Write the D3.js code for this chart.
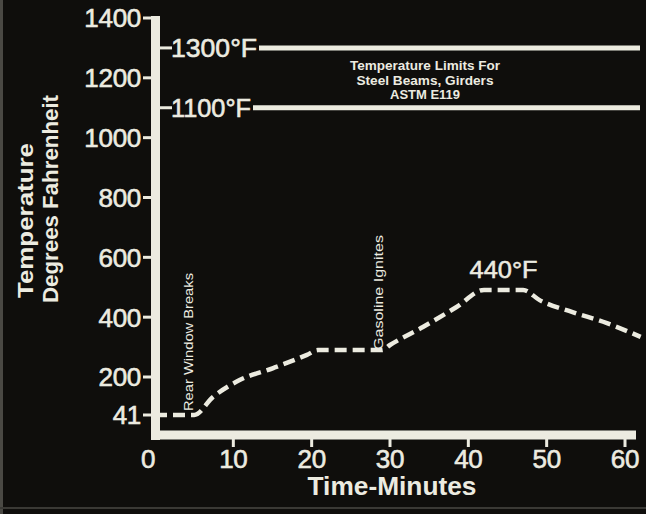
<!DOCTYPE html>
<html>
<head>
<meta charset="utf-8">
<script src="https://cdn.jsdelivr.net/npm/d3@7"></script>
<style>
  html, body { margin: 0; padding: 0; background: #0f0e0c; }
  svg { display: block; }
  text { font-family: "Liberation Sans", Arial, sans-serif; fill: #ecebe0; }
</style>
</head>
<body>
<svg id="chart" width="646" height="514"></svg>
<script>
// ---- data ----
const times = [0, 5, 7.4, 10.8, 15.1, 19.4, 20.8, 29, 30, 34.2, 38.5, 42, 47, 49.1, 53.3, 57.7, 62];
const temps = [41, 41, 116, 187, 230, 274, 290, 290, 307, 367, 434, 491, 491, 457, 417, 380, 334];
const yTicks = [41, 200, 400, 600, 800, 1000, 1200, 1400];
const xTicks = [0, 10, 20, 30, 40, 50, 60];
const limitValues = [1300, 1100];
const limitLabels = ["1300°F", "1100°F"];
const limitNote = ["Temperature Limits For", "Steel Beams, Girders", "ASTM E119"];
const events = [
  { t: 4.4, label: "Rear Window Breaks" },
  { t: 28.7, label: "Gasoline Ignites" }
];
const peakLabel = "440°F";
const peakTime = 44.5;
const peakValue = 491;
const xTitle = "Time-Minutes";
const yTitle = ["Temperature", "Degrees Fahrenheit"];

// ---- drawing ----
const W = 646, H = 514;
const ink = "#ecebe0";
const svg = d3.select("#chart");
svg.append("rect").attr("width", W).attr("height", H).attr("fill", "#0f0e0c");
// faint photo edges
svg.append("rect").attr("x", 0).attr("y", 0).attr("width", 3).attr("height", H).attr("fill", "#4a4944");
svg.append("rect").attr("x", 0).attr("y", 507).attr("width", W).attr("height", 2).attr("fill", "#3a3935");

const x = d3.scaleLinear().domain([0, 60]).range([155, 625]);
const y = d3.scaleLinear().domain([0, 41, 200, 1400]).range([436, 415, 377, 18]);

const axisX0 = 151, axisY0 = 435;

// y axis line
svg.append("line")
  .attr("x1", 155.5).attr("x2", 155.5)
  .attr("y1", y(1400) - 2).attr("y2", axisY0 + 5)
  .attr("stroke", ink).attr("stroke-width", 9);
// x axis line
svg.append("line")
  .attr("x1", axisX0).attr("x2", 636)
  .attr("y1", axisY0).attr("y2", axisY0)
  .attr("stroke", ink).attr("stroke-width", 9);

// y ticks
const yt = svg.append("g");
yt.selectAll("line").data(yTicks).join("line")
  .attr("x1", 143).attr("x2", 152)
  .attr("y1", d => y(d)).attr("y2", d => y(d))
  .attr("stroke", ink).attr("stroke-width", 3);
yt.selectAll("text").data(yTicks).join("text")
  .attr("x", 141).attr("y", d => y(d)).attr("dy", "0.36em")
  .attr("text-anchor", "end")
  .attr("font-size", 26).attr("letter-spacing", -0.3)
  .attr("stroke", ink).attr("stroke-width", 0.6)
  .text(d => d);

// x ticks
const xt = svg.append("g");
xt.selectAll("line").data(xTicks.filter(d => d > 0)).join("line")
  .attr("x1", d => x(d)).attr("x2", d => x(d))
  .attr("y1", axisY0 + 4).attr("y2", axisY0 + 12)
  .attr("stroke", ink).attr("stroke-width", 3);
xt.selectAll("text").data(xTicks).join("text")
  .attr("x", d => d === 0 ? x(d) - 7 : x(d)).attr("y", 468)
  .attr("text-anchor", "middle")
  .attr("font-size", 26).attr("letter-spacing", -0.3)
  .attr("stroke", ink).attr("stroke-width", 0.6)
  .text(d => d);

// axis titles
svg.append("text")
  .attr("x", 392).attr("y", 495)
  .attr("text-anchor", "middle")
  .attr("font-size", 25).attr("font-weight", "bold")
  .attr("textLength", 169).attr("lengthAdjust", "spacingAndGlyphs")
  .text(xTitle);
svg.append("text")
  .attr("transform", "translate(33,298) rotate(-90)")
  .attr("text-anchor", "start")
  .attr("font-size", 22).attr("font-weight", "bold")
  .attr("textLength", 155).attr("lengthAdjust", "spacingAndGlyphs")
  .text(yTitle[0]);
svg.append("text")
  .attr("transform", "translate(58,303) rotate(-90)")
  .attr("text-anchor", "start")
  .attr("font-size", 22).attr("font-weight", "bold")
  .attr("textLength", 208).attr("lengthAdjust", "spacingAndGlyphs")
  .text(yTitle[1]);

// limit lines
const lim = svg.append("g");
const limLen = [86, 80];
limitValues.forEach((v, i) => {
  const yy = y(v);
  lim.append("line").attr("x1", 160).attr("x2", 172).attr("y1", yy).attr("y2", yy)
    .attr("stroke", ink).attr("stroke-width", 3);
  lim.append("text").attr("x", 171).attr("y", yy).attr("dy", "0.36em")
    .attr("font-size", 26)
    .attr("stroke", ink).attr("stroke-width", 0.6)
    .attr("textLength", limLen[i]).attr("lengthAdjust", "spacingAndGlyphs")
    .text(limitLabels[i]);
  lim.append("line").attr("x1", 171 + limLen[i] + 2).attr("x2", 640).attr("y1", yy).attr("y2", yy)
    .attr("stroke", ink).attr("stroke-width", 5);
});
const noteLen = [150, 137, 70];
const note = svg.append("text").attr("text-anchor", "middle")
  .attr("font-size", 12.5).attr("font-weight", "bold");
note.selectAll("tspan").data(limitNote).join("tspan")
  .attr("x", 425).attr("y", (d, i) => 70 + i * 14.5)
  .attr("textLength", (d, i) => noteLen[i]).attr("lengthAdjust", "spacingAndGlyphs")
  .text(d => d);

// data line
const line = d3.line().x(d => x(d[0])).y(d => y(d[1])).curve(d3.curveMonotoneX);
svg.append("path")
  .datum(times.map((t, i) => [t, temps[i]]))
  .attr("d", line)
  .attr("fill", "none")
  .attr("stroke", ink).attr("stroke-width", 4.5)
  .attr("stroke-dasharray", "12,6");

// event labels (vertical)
const evLen = [138, 115];
events.forEach((e, i) => {
  const base = i === 0 ? 411 : 350;
  svg.append("text")
    .attr("transform", `translate(${x(e.t) + 3.5},${base}) rotate(-90)`)
    .attr("font-size", 12)
    .attr("textLength", evLen[i]).attr("lengthAdjust", "spacingAndGlyphs")
    .text(e.label);
});

// peak label
svg.append("text")
  .attr("x", x(peakTime)).attr("y", y(peakValue) - 12)
  .attr("text-anchor", "middle")
  .attr("font-size", 23)
  .attr("stroke", ink).attr("stroke-width", 0.5)
  .attr("textLength", 68).attr("lengthAdjust", "spacingAndGlyphs")
  .text(peakLabel);
</script>
</body>
</html>
